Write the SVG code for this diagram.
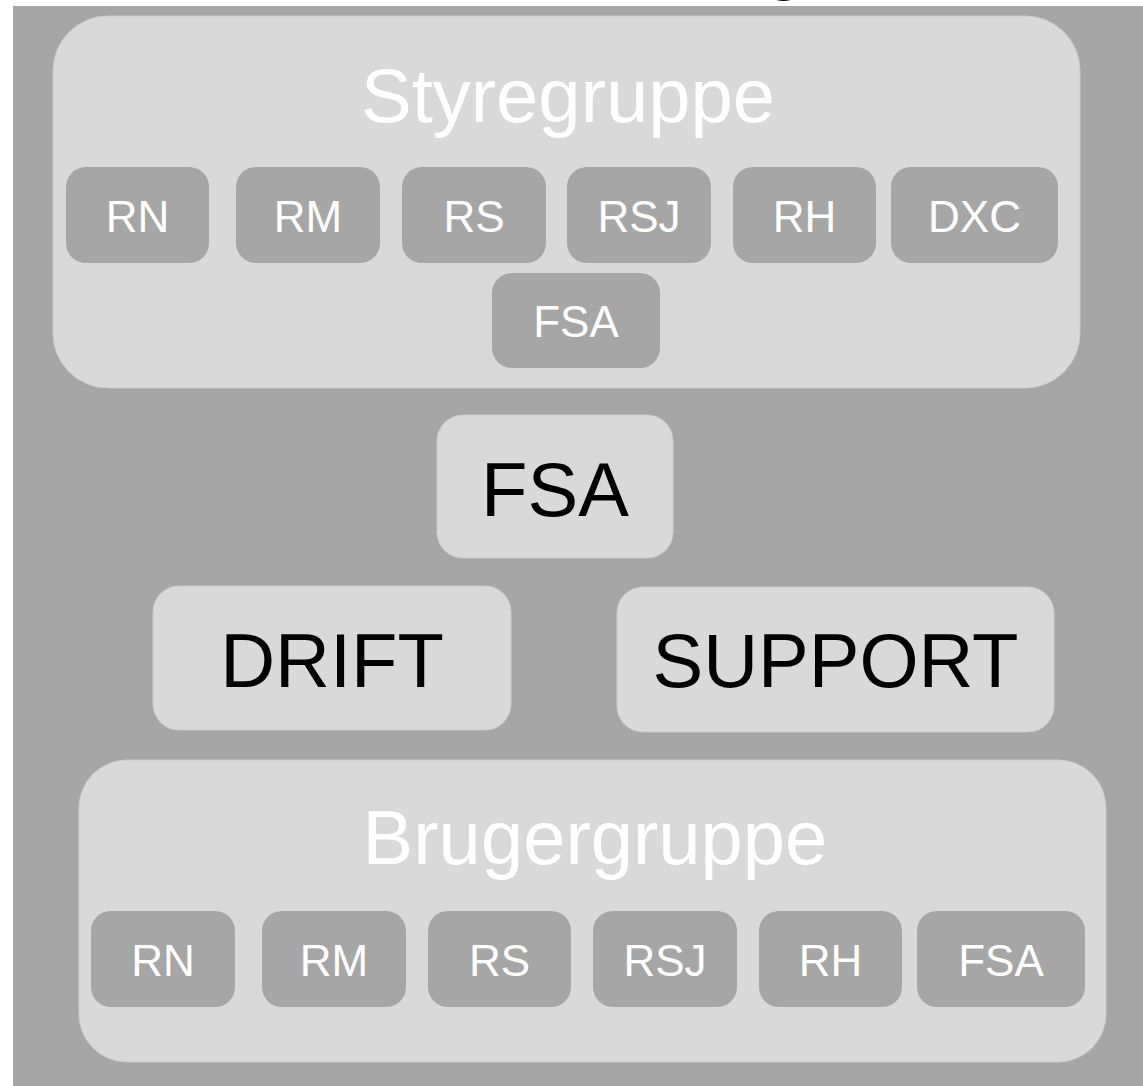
<svg xmlns="http://www.w3.org/2000/svg" width="1143" height="1086" viewBox="0 0 1143 1086">
<style>
.bg{fill:#a6a6a6}
.group{fill:#d9d9d9;stroke:#cccccc;stroke-width:1}
.chip{fill:#a6a6a6}
.role{fill:#d9d9d9;stroke:#cccccc;stroke-width:1}
.hdr{font-family:"Liberation Sans",Arial,sans-serif;font-size:76px;fill:#ffffff;text-anchor:middle}
.big{font-family:"Liberation Sans",Arial,sans-serif;font-size:76px;fill:#000000;text-anchor:middle}
.sm{font-family:"Liberation Sans",Arial,sans-serif;font-size:44px;fill:#ffffff;text-anchor:middle}
</style>
<rect x="0" y="0" width="1143" height="1086" fill="#ffffff"/>
<text x="784" y="-15" class="big">g</text>
<rect class="bg" x="13" y="6" width="1130" height="1080"/>

<g id="styregruppe">
  <rect class="group" x="53" y="16" width="1027" height="372" rx="55" ry="55"/>
  <text class="hdr" x="568" y="122">Styregruppe</text>
</g>
<g id="s-rn"><rect class="chip" x="66" y="167" width="143" height="96" rx="20"/><text class="sm" x="137.5" y="232">RN</text></g>
<g id="s-rm"><rect class="chip" x="236" y="167" width="144" height="96" rx="20"/><text class="sm" x="308" y="232">RM</text></g>
<g id="s-rs"><rect class="chip" x="402" y="167" width="144" height="96" rx="20"/><text class="sm" x="474" y="232">RS</text></g>
<g id="s-rsj"><rect class="chip" x="567" y="167" width="144" height="96" rx="20"/><text class="sm" x="639" y="232">RSJ</text></g>
<g id="s-rh"><rect class="chip" x="733" y="167" width="143" height="96" rx="20"/><text class="sm" x="804.5" y="232">RH</text></g>
<g id="s-dxc"><rect class="chip" x="891" y="167" width="167" height="96" rx="20"/><text class="sm" x="974.5" y="232">DXC</text></g>
<g id="s-fsa"><rect class="chip" x="492" y="273" width="168" height="95" rx="20"/><text class="sm" x="576" y="337">FSA</text></g>

<g id="fsa">
  <rect class="role" x="437" y="415" width="236" height="143" rx="26"/>
  <text class="big" x="555" y="516">FSA</text>
</g>
<g id="drift">
  <rect class="role" x="153" y="586" width="358" height="144" rx="26"/>
  <text class="big" x="332" y="687">DRIFT</text>
</g>
<g id="support">
  <rect class="role" x="617" y="587" width="437" height="145" rx="26"/>
  <text class="big" x="835.5" y="687">SUPPORT</text>
</g>

<g id="brugergruppe">
  <rect class="group" x="79" y="760" width="1027" height="302" rx="48" ry="48"/>
  <text class="hdr" x="595" y="864">Brugergruppe</text>
</g>
<g id="b-rn"><rect class="chip" x="91" y="911" width="144" height="96" rx="20"/><text class="sm" x="163" y="976">RN</text></g>
<g id="b-rm"><rect class="chip" x="262" y="911" width="144" height="96" rx="20"/><text class="sm" x="334" y="976">RM</text></g>
<g id="b-rs"><rect class="chip" x="428" y="911" width="143" height="96" rx="20"/><text class="sm" x="499.5" y="976">RS</text></g>
<g id="b-rsj"><rect class="chip" x="593" y="911" width="144" height="96" rx="20"/><text class="sm" x="665" y="976">RSJ</text></g>
<g id="b-rh"><rect class="chip" x="759" y="911" width="143" height="96" rx="20"/><text class="sm" x="830.5" y="976">RH</text></g>
<g id="b-fsa"><rect class="chip" x="917" y="911" width="168" height="96" rx="20"/><text class="sm" x="1001" y="976">FSA</text></g>

<g id="connectors"></g>
</svg>
